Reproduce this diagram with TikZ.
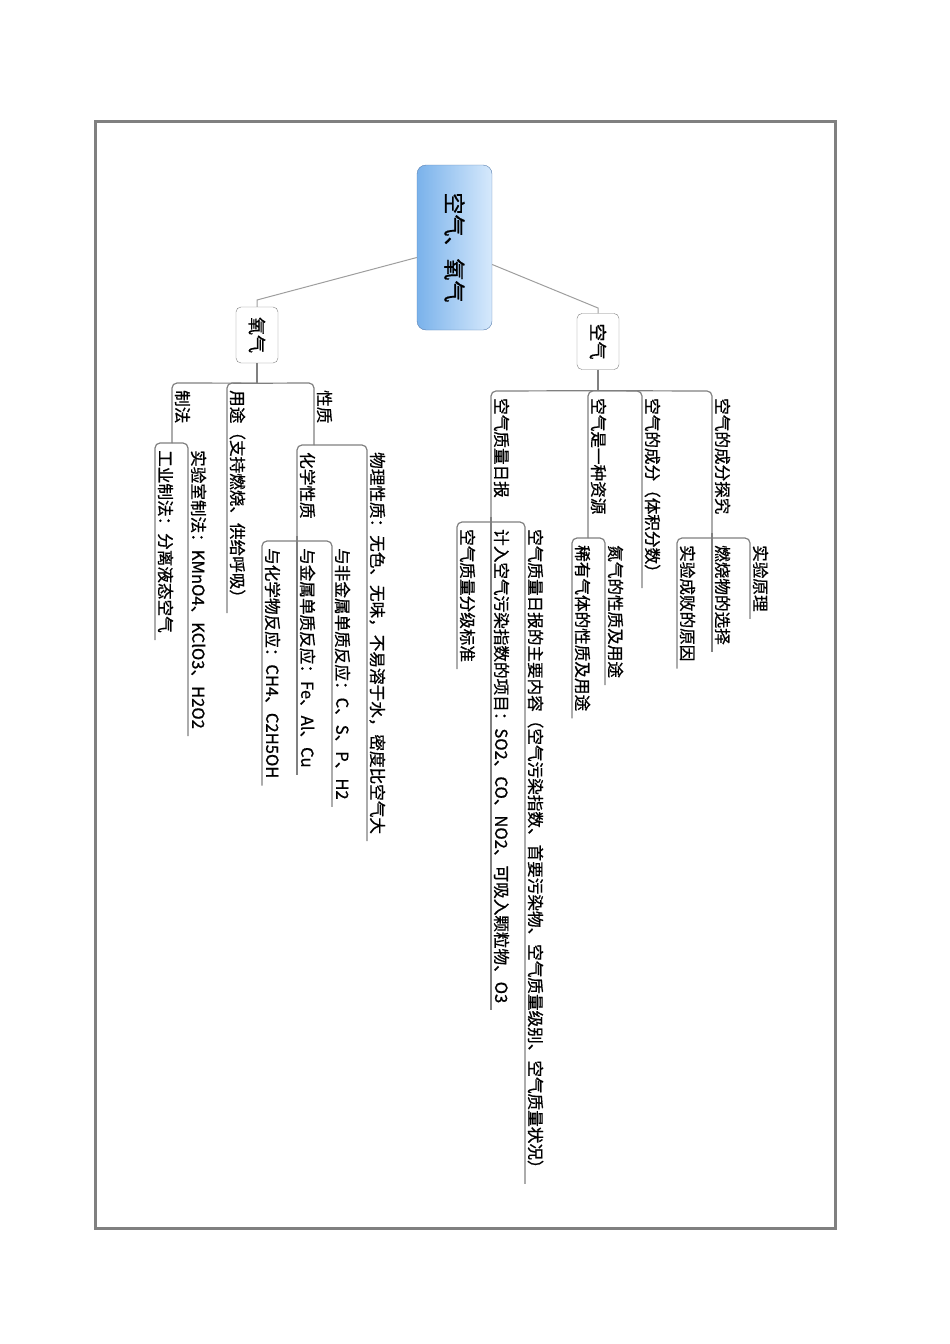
\documentclass[tikz,border=0pt]{standalone}
\usepackage{fontspec}
\usepackage{tikz}
\usetikzlibrary{calc}
\newfontfamily\cjk[FakeBold=0.7]{Noto Sans CJK SC}
\definecolor{rootdark}{RGB}{122,178,235}
\definecolor{rootlight}{RGB}{214,233,252}
\definecolor{rootline}{RGB}{90,128,176}

\begin{document}
\begin{tikzpicture}[x=1pt,y=1pt,rotate=-90,transform shape]
    \tikzstyle{link}=[draw=black!50,line width=1.2pt,rounded corners=5pt]
    \tikzstyle{root link}=[draw=black!38,line width=1pt]
    \tikzstyle{topic}=[font=\cjk\fontsize{16.6}{18}\selectfont,inner xsep=7pt,inner ysep=1pt,text height=13pt,text depth=3pt,anchor=south west]
    \tikzstyle{main topic}=[draw=black!50,fill=white,rounded corners=5pt,minimum width=56pt,minimum height=42pt,inner sep=0pt,font=\cjk\fontsize{18}{20}\selectfont]
    \tikzstyle{root topic}=[draw=rootline,left color=rootdark,right color=rootlight,rounded corners=9pt,minimum width=165pt,minimum height=75pt,font=\cjk\fontsize{22}{24}\selectfont]

    \useasboundingbox (0,0) rectangle (1344,950);
    \draw[draw=black!50,line width=3pt] (121,95) rectangle (1228,835);

    % Draw the root and the two main topics
    \node[root topic] (root) at (247.5,454.5) {空气、氧气};
    \node[main topic] (oxy) at (335,257) {氧气};
    \node[main topic] (air) at (341.5,598) {空气};
    \draw[root link] ($(root.south)+(10,0)$) -- (300,257) -- (oxy.west);
    \draw[root link] ($(root.north)+(17,0)$) -- (308,598) -- (air.west);

    % Draw the branches of oxy
    \draw[link] (oxy.east) -- ++(20,0) coordinate (oxy-b);
    \foreach \name/\v/\txt in {zf/172/制法, yt/227/用途（支持燃烧、供给呼吸）, xz/314/性质}
        \node[topic] (\name) at (383,\v) {\txt};
    \draw[link] (oxy-b) -- (zf.south west) -- ++(60,0) coordinate (zf-b);
    \draw[link] (oxy-b) -- (yt.south west) -- (yt.south east);
    \draw[link] (oxy-b) -- (xz.south west) -- ++(62,0) coordinate (xz-b);

    % Ways of making oxygen
    \node[topic] (gy) at (443,155) {工业制法：分离液态空气};
    \node[topic] (sy) at (443,188) {实验室制法：KMnO4、KClO3、H2O2};
    \foreach \dest in {gy,sy}
        \draw[link] (zf-b) -- (\dest.south west) -- (\dest.south east);

    % Properties of oxygen
    \node[topic] (hx) at (445,297) {化学性质};
    \node[topic] (wl) at (445,367) {物理性质：无色、无味，不易溶于水，密度比空气大};
    \draw[link] (xz-b) -- (hx.south west) -- ++(96,0) coordinate (hx-b);
    \draw[link] (xz-b) -- (wl.south west) -- (wl.south east);
    \foreach \name/\v/\txt in {hw/262/与化学物反应：CH4、C2H5OH, js/297/与金属单质反应：Fe、Al、Cu, fjs/332/与非金属单质反应：C、S、P、H2}
        \node[topic] (\name) at (541,\v) {\txt};
    \foreach \dest in {hw,js,fjs}
        \draw[link] (hx-b) -- (\dest.south west) -- (\dest.south east);

    % Draw the branches of air
    \draw[link] (air.east) -- ++(21,0) coordinate (air-b);
    \foreach \name/\v/\txt in {rb/491/空气质量日报, zy/588/空气是一种资源, cf/642/空气的成分（体积分数）, tj/712/空气的成分探究}
        \node[topic] (\name) at (391,\v) {\txt};
    \draw[link] (air-b) -- (rb.south west) -- ++(131,0) coordinate (rb-b);
    \draw[link] (air-b) -- (zy.south west) -- ++(147,0) coordinate (zy-b);
    \draw[link] (air-b) -- (cf.south west) -- (cf.south east);
    \draw[link] (air-b) -- (tj.south west) -- ++(147,0) coordinate (tj-b);

    % Daily report of air quality
    \foreach \name/\v/\txt in {fj/457/空气质量分级标准, jr/491/计入空气污染指数的项目：SO2、CO、NO2、可吸入颗粒物、O3, nr/525/空气质量日报的主要内容（空气污染指数、首要污染物、空气质量级别、空气质量状况）}
        \node[topic] (\name) at (522,\v) {\txt};
    \foreach \dest in {fj,jr,nr}
        \draw[link] (rb-b) -- (\dest.south west) -- (\dest.south east);

    % Air as a resource
    \node[topic] (xy) at (538,572) {稀有气体的性质及用途};
    \node[topic] (dq) at (538,605) {氮气的性质及用途};
    \foreach \dest in {xy,dq}
        \draw[link] (zy-b) -- (\dest.south west) -- (\dest.south east);

    % Experiment on the make-up of air
    \foreach \name/\v/\txt in {cb/677/实验成败的原因, rs/712/燃烧物的选择, yl/750/实验原理}
        \node[topic] (\name) at (538,\v) {\txt};
    \foreach \dest in {cb,rs,yl}
        \draw[link] (tj-b) -- (\dest.south west) -- (\dest.south east);
\end{tikzpicture}
\end{document}
